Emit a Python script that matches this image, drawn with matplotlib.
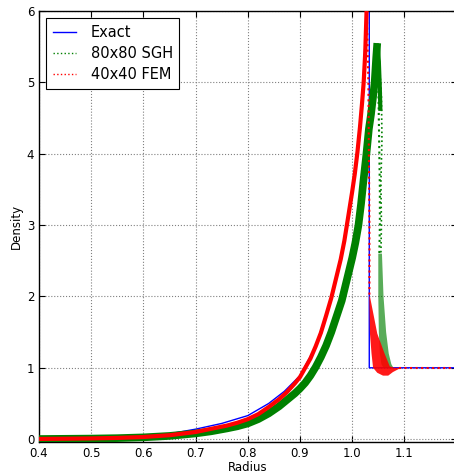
import matplotlib
matplotlib.use("Agg")
import matplotlib.pyplot as plt

# ── Exact solution ────────────────────────────────────────────────────────────
exact_r   = [0.40, 0.45, 0.50, 0.55, 0.60, 0.65, 0.70, 0.75, 0.80, 0.84, 0.87,
             0.90, 0.93, 0.96, 0.98, 1.00, 1.01, 1.02, 1.0275, 1.0327, 1.0327, 1.20]
exact_rho = [0.003, 0.007, 0.013, 0.023, 0.040, 0.075, 0.140, 0.220, 0.330, 0.50,
             0.67, 0.89, 1.30, 1.98, 2.62, 3.47, 4.02, 4.90, 6.00, 6.00, 1.00, 1.00]

# ── 80x80 SGH ─────────────────────────────────────────────────────────────────
sgh_r   = [0.40, 0.45, 0.50, 0.55, 0.60, 0.65, 0.70, 0.73, 0.76, 0.78, 0.80,
           0.82, 0.84, 0.86, 0.875, 0.89, 0.90, 0.91, 0.92, 0.93, 0.94, 0.95,
           0.96, 0.97, 0.98, 0.99, 1.000, 1.006, 1.012, 1.017, 1.022, 1.027,
           1.032, 1.036, 1.040, 1.043, 1.046, 1.048]
sgh_rho = [0.002, 0.005, 0.008, 0.014, 0.025, 0.045, 0.080, 0.11, 0.15, 0.18, 0.22,
           0.28, 0.36, 0.46, 0.55, 0.64, 0.71, 0.79, 0.89, 1.01, 1.15, 1.31,
           1.50, 1.72, 1.94, 2.24, 2.54, 2.75, 3.00, 3.30, 3.65, 3.98,
           4.35, 4.55, 4.80, 5.00, 5.35, 5.55]
# cells clustered just behind the peak
sgh_peak_r   = [1.047, 1.049, 1.051, 1.053, 1.054]
sgh_peak_rho = [5.50, 5.52, 5.30, 4.90, 4.60]
# scattered cells just behind the shock
sgh_scatter_a_r   = [1.048, 1.050, 1.051, 1.052, 1.053, 1.053, 1.052]
sgh_scatter_a_rho = [5.50, 5.00, 4.50, 4.00, 3.50, 3.00, 2.60]
sgh_scatter_b_r   = [1.052, 1.056, 1.057, 1.055, 1.056, 1.055]
sgh_scatter_b_rho = [5.30, 4.80, 4.20, 3.60, 3.00, 2.60]
# denser tail relaxing to ambient density
sgh_tail_in_r    = [1.050, 1.050, 1.051, 1.053, 1.056, 1.060]
sgh_tail_in_rho  = [2.60, 2.00, 1.50, 1.20, 1.05, 1.00]
sgh_tail_out_r   = [1.057, 1.060, 1.065, 1.070, 1.075, 1.079]
sgh_tail_out_rho = [2.60, 2.00, 1.50, 1.20, 1.05, 1.00]

# ── 40x40 FEM ─────────────────────────────────────────────────────────────────
fem_r   = [0.40, 0.45, 0.50, 0.55, 0.60, 0.65, 0.70, 0.73, 0.76, 0.78, 0.80,
           0.82, 0.84, 0.86, 0.875, 0.89, 0.90, 0.91, 0.92, 0.93, 0.94, 0.95,
           0.96, 0.97, 0.978, 0.985, 0.992, 1.000, 1.005, 1.010, 1.015, 1.019,
           1.022, 1.025, 1.0275, 1.029]
fem_rho = [0.003, 0.006, 0.010, 0.017, 0.030, 0.055, 0.100, 0.145, 0.19, 0.23, 0.28,
           0.35, 0.45, 0.56, 0.66, 0.78, 0.87, 1.00, 1.13, 1.30, 1.49, 1.73,
           1.98, 2.28, 2.52, 2.78, 3.10, 3.47, 3.72, 4.02, 4.38, 4.72,
           5.00, 5.42, 6.00, 6.40]
# sparse cells sitting on the shock front
fem_front_r   = [1.028, 1.031, 1.032, 1.033, 1.033]
fem_front_rho = [6.00, 5.00, 4.00, 3.00, 2.00]
# post-shock tail with undershoot
fem_tail_in_r    = [1.0327, 1.034, 1.037, 1.040, 1.048, 1.059, 1.069, 1.078, 1.091]
fem_tail_in_rho  = [2.00, 1.48, 1.20, 1.00, 0.93, 0.89, 0.89, 0.94, 0.99]
fem_tail_out_r   = [1.034, 1.048, 1.062, 1.072, 1.081, 1.091]
fem_tail_out_rho = [2.00, 1.48, 1.20, 1.02, 1.00, 1.00]
fem_far_r   = [1.090, 1.200]
fem_far_rho = [1.00, 1.00]

BLUE, GREEN, RED = "#0000ff", "#008000", "#ff0000"

fig = plt.figure(figsize=(4.54, 4.74), dpi=100)
ax = fig.add_axes([39 / 454, 32 / 474, 417.6 / 454, 431 / 474])

ax.plot(exact_r, exact_rho, color=BLUE, lw=1.0, label="Exact", zorder=2)

# SGH cloud
ax.plot(sgh_r, sgh_rho, color=GREEN, lw=5.5, solid_capstyle="butt",
        solid_joinstyle="round", zorder=3)
ax.plot(sgh_r, sgh_rho, color=GREEN, ls=":", lw=1.0, label="80x80 SGH", zorder=3)
ax.plot(sgh_peak_r, sgh_peak_rho, color=GREEN, lw=3.0, solid_capstyle="butt", zorder=3)
ax.plot(sgh_scatter_a_r, sgh_scatter_a_rho, color=GREEN, ls=":", lw=1.5, zorder=3)
ax.plot(sgh_scatter_b_r, sgh_scatter_b_rho, color=GREEN, ls=":", lw=1.2, zorder=3)
ax.fill(sgh_tail_in_r + sgh_tail_out_r[::-1],
        sgh_tail_in_rho + sgh_tail_out_rho[::-1],
        color=GREEN, alpha=0.65, lw=0, zorder=3)

# FEM cloud
ax.plot(fem_r, fem_rho, color=RED, lw=3.0, solid_capstyle="butt",
        solid_joinstyle="round", zorder=4)
ax.plot(fem_r, fem_rho, color=RED, ls=":", lw=1.0, label="40x40 FEM", zorder=4)
ax.plot(fem_front_r, fem_front_rho, color=RED, ls=":", lw=1.5, zorder=4)
ax.fill(fem_tail_in_r + fem_tail_out_r[::-1],
        fem_tail_in_rho + fem_tail_out_rho[::-1],
        color=RED, alpha=0.9, lw=0, zorder=4)
ax.plot(fem_far_r, fem_far_rho, color=RED, ls=":", lw=1.5, zorder=4)

ax.set_xlim(0.4, 1.2)
ax.set_ylim(-0.04, 6)
ax.set_xticks([0.4, 0.5, 0.6, 0.7, 0.8, 0.9, 1.0, 1.1])
ax.set_yticks([0, 1, 2, 3, 4, 5, 6])
ax.tick_params(direction="in", top=True, right=True, labelsize=8.5, length=4)
ax.grid(True, color="gray", ls=":", lw=0.8)
ax.set_axisbelow(True)
for s in ax.spines.values():
    s.set_linewidth(1.0)

ax.set_xlabel("Radius", fontsize=8.5, labelpad=1)
ax.set_ylabel("Density", fontsize=8.5, labelpad=3)

leg = ax.legend(loc="upper left", fontsize=10.5, fancybox=False, framealpha=1,
                edgecolor="black", borderpad=0.45, handlelength=1.6,
                handletextpad=1.0, labelspacing=0.42)
leg.get_frame().set_linewidth(0.8)

fig.savefig("out.png", dpi=100)
